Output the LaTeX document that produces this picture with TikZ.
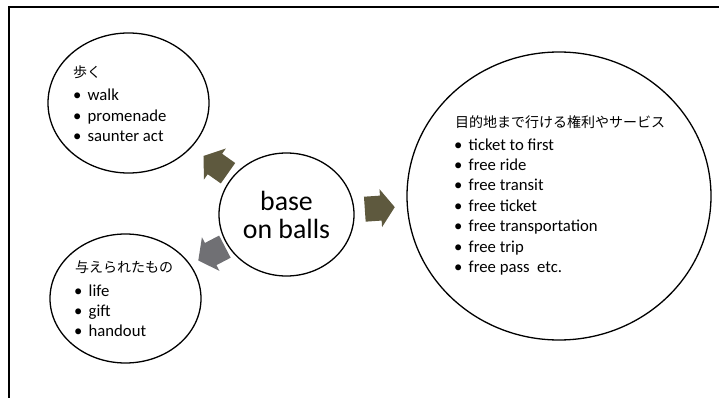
\documentclass[tikz,border=0pt]{standalone}
\usepackage{fontspec}
\setmainfont{Carlito}
\newfontfamily\jpfont{Noto Sans CJK JP}
\usetikzlibrary{shapes.geometric,calc}
\definecolor{arrowolive}{RGB}{94,89,62}
\definecolor{arrowgray}{RGB}{112,112,116}
\newcommand{\bul}{\makebox[14.5pt][l]{•}}
\begin{document}
\begin{tikzpicture}[x=1pt,y=-1pt,
  ring/.style={draw, line width=1.3pt, ellipse, inner sep=0pt},
  txt/.style={anchor=base west, inner sep=0pt, font=\fontsize{16.7}{20}\selectfont},
  jptxt/.style={anchor=base west, inner sep=0pt, font=\jpfont\fontsize{14}{16}\selectfont},
  bigtxt/.style={align=center, font=\fontsize{27.8}{28}\selectfont}
]
\useasboundingbox (0,0) rectangle (719,398);
\draw[line width=1.6pt] (730,7) -- (9,7) -- (9,410);

% circles
\node[ring, minimum width=161pt, minimum height=140pt] (tl) at (128.5,103) {};
\node[ring, minimum width=151pt, minimum height=129pt] (bl) at (125.5,298.5) {};
\node[ring, bigtxt, minimum width=135pt, minimum height=123pt] (c) at (286.5,214.5) {base\\on balls};
\node[ring, minimum width=304pt, minimum height=288pt] (r) at (559,196) {};

% arrows
\coordinate (au) at ($(c)!86.6pt!(tl)$);
\coordinate (ad) at ($(c)!84.5pt!(bl)$);
\coordinate (ar) at ($(c)!93.5pt!(r)$);
\begin{scope}[shift={(au)}, rotate=144.8]
  \fill[arrowolive] (15,0) -- (1,19) -- (1,12.5) -- (-15,12.5) -- (-15,-12.5) -- (1,-12.5) -- (1,-19) -- cycle;
\end{scope}
\begin{scope}[shift={(ad)}, rotate=207.5]
  \fill[arrowgray] (15,0) -- (1,19) -- (1,12.5) -- (-15,12.5) -- (-15,-12.5) -- (1,-12.5) -- (1,-19) -- cycle;
\end{scope}
\begin{scope}[shift={(ar)}, rotate=3.9]
  \fill[arrowolive] (15,0) -- (1,19) -- (1,12.5) -- (-15,12.5) -- (-15,-12.5) -- (1,-12.5) -- (1,-19) -- cycle;
\end{scope}

% top-left texts
\node[jptxt] (tlh) at (73,78) {歩く};
\node[txt] (tl1) at (73,101) {\bul walk};
\node[txt] (tl2) at (73,121.3) {\bul promenade};
\node[txt] (tl3) at (73,141.6) {\bul saunter act};

% bottom-left texts
\node[jptxt] (blh) at (75,272) {与えられたもの};
\node[txt] (bl1) at (74,296) {\bul life};
\node[txt] (bl2) at (74,316) {\bul gift};
\node[txt] (bl3) at (74,336) {\bul handout};

% right texts
\node[jptxt] (rh) at (455,128) {目的地まで行ける権利やサービス};
\node[txt] (r1) at (454,150) {\bul ticket to first};
\node[txt] (r2) at (454,170.4) {\bul free ride};
\node[txt] (r3) at (454,190.8) {\bul free transit};
\node[txt] (r4) at (454,211.2) {\bul free ticket};
\node[txt] (r5) at (454,231.6) {\bul free transportation};
\node[txt] (r6) at (454,252) {\bul free trip};
\node[txt] (r7) at (454,272.4) {\bul free pass\ \ etc.};
\end{tikzpicture}
\end{document}
